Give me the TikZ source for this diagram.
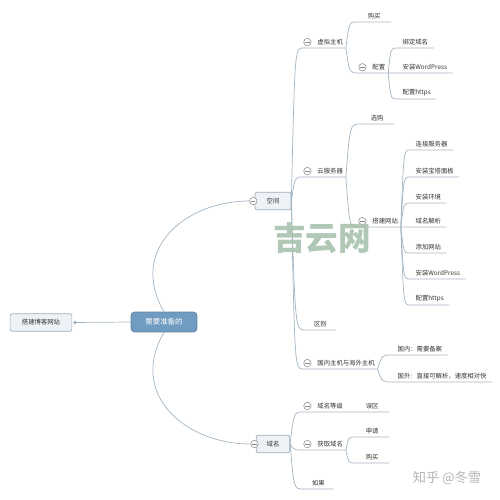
\documentclass[tikz,border=0pt]{standalone}
\usepackage{fontspec}
\newfontfamily\cjk{Noto Sans CJK SC}
\usetikzlibrary{calc,arrows.meta}

\definecolor{linegrey}{HTML}{A3B5C3}
\definecolor{textgrey}{HTML}{333333}
\definecolor{foldgrey}{HTML}{8A8A8A}
\definecolor{rootblue}{HTML}{6F9CC0}
\definecolor{boxfill}{HTML}{EEF2F6}
\definecolor{boxline}{HTML}{9FB0BD}
\definecolor{wmgreen}{HTML}{A8C2AE}
\definecolor{zhgrey}{HTML}{B4B4B4}

\begin{document}
\begin{tikzpicture}[x=0.567pt,y=-0.567pt,
	every node/.style={font=\cjk\fontsize{3.6}{4}\selectfont, text=textgrey},
	link/.style={linegrey, line width=0.4pt},
	fork/.style={to path={.. controls ($(\tikztostart |- \tikztotarget)!.3!(\tikztotarget)$) .. (\tikztotarget)}},
	topbox/.style={draw=boxline, fill=boxfill, rounded corners=1.2pt, line width=0.4pt},
	foldmark/.style={circle, draw=foldgrey, fill=white, line width=0.3pt,
		minimum size=4.2pt, inner sep=0pt,
		path picture={\draw[foldgrey, line width=0.3pt]
			([xshift=-1.2pt]path picture bounding box.center) -- ++(2.4pt,0);}},
	fold/.style={execute at begin node={\hspace*{6.5pt}},
		path picture={
			\draw[foldgrey, line width=0.3pt]
			([xshift=2.3pt]path picture bounding box.west) circle (2.1pt);
			\draw[foldgrey, line width=0.3pt]
			([xshift=1.1pt]path picture bounding box.west) -- ++(2.4pt,0);}},
	sub/.style={inner xsep=1.5pt, inner ysep=1.5pt, anchor=south west},
	leaf/.style={inner xsep=3pt, inner ysep=1.5pt, minimum width=19pt, anchor=south west}]
	
	\useasboundingbox (0,0) rectangle (500,500);
	
	% Central topic and goal
	\node[draw=rootblue!85!black, fill=rootblue, rounded corners=2pt,
	minimum width=37.4pt, minimum height=11.3pt,
	font=\cjk\fontsize{4.2}{5}\selectfont, text=white] (root) at (164,322) {需要准备的};
	
	\node[topbox, minimum width=35pt, minimum height=7.4pt] (site) at (41,322.5) {搭建博客网站};
	
	\draw[link, -{Circle[length=2pt]}] (root.west) -- ([xshift=0.6pt]site.east);
	
	% Main branches
	\node[topbox, minimum width=20.4pt, minimum height=6.8pt] (space) at (273,201) {空间};
	\node[foldmark] (spacefold) at ([xshift=-0.8pt]space.west) {};
	
	\node[topbox, minimum width=19pt, minimum height=6.8pt] (domain) at (273,444) {域名};
	\node[foldmark] (domainfold) at ([xshift=-0.8pt]domain.west) {};
	
	\draw[link] (root.north) .. controls (128,250) and (185,201) .. (spacefold.west);
	\draw[link] (root.south) .. controls (128,394) and (185,444) .. (domainfold.west);
	
	% Space: second level
	\node[sub, fold] (vhost) at (303,48) {虚拟主机};
	\node[sub, fold] (cloud) at (303,177) {云服务器};
	\node[sub, minimum width=17pt] (diff) at (305,330) {区别};
	\node[sub, fold] (region) at (303,369) {国内主机与海外主机};
	
	\draw[link] (space.east) to[fork] (vhost.south west) -- (vhost.south east);
	\draw[link] (space.east) to[fork] (cloud.south west) -- (cloud.south east);
	\draw[link] (space.east) to[fork] (diff.south west) -- (diff.south east);
	\draw[link] (space.east) to[fork] (region.south west) -- (region.south east);
	
	% Virtual host
	\node[leaf] (vbuy) at (357,22) {购买};
	\node[sub, fold] (vconf) at (358,73) {配置};
	
	\draw[link] (vhost.south east) to[fork] (vbuy.south west) -- (vbuy.south east);
	\draw[link] (vhost.south east) to[fork] (vconf.south west) -- (vconf.south east);
	
	\node[leaf] (vbind) at (397,48) {绑定域名};
	\node[leaf] (vwp) at (397,73) {安装WordPress};
	\node[leaf] (vhttps) at (397,99) {配置https};
	
	\draw[link] (vconf.south east) to[fork] (vbind.south west) -- (vbind.south east);
	\draw[link] (vconf.south east) to[fork] (vwp.south west) -- (vwp.south east);
	\draw[link] (vconf.south east) to[fork] (vhttps.south west) -- (vhttps.south east);
	
	% Cloud server
	\node[leaf] (cpick) at (360,124) {选购};
	\node[sub, fold] (cbuild) at (358,227) {搭建网站};
	
	\draw[link] (cloud.south east) to[fork] (cpick.south west) -- (cpick.south east);
	\draw[link] (cloud.south east) to[fork] (cbuild.south west) -- (cbuild.south east);
	
	\node[leaf] (s1) at (410,150) {连接服务器};
	\node[leaf] (s2) at (410,177) {安装宝塔面板};
	\node[leaf] (s3) at (410,203) {安装环境};
	\node[leaf] (s4) at (410,227) {域名解析};
	\node[leaf] (s5) at (410,253) {添加网站};
	\node[leaf] (s6) at (410,279) {安装WordPress};
	\node[leaf] (s7) at (410,305) {配置https};
	
	\draw[link] (cbuild.south east) to[fork] (s1.south west) -- (s1.south east);
	\draw[link] (cbuild.south east) to[fork] (s2.south west) -- (s2.south east);
	\draw[link] (cbuild.south east) to[fork] (s3.south west) -- (s3.south east);
	\draw[link] (cbuild.south east) to[fork] (s4.south west) -- (s4.south east);
	\draw[link] (cbuild.south east) to[fork] (s5.south west) -- (s5.south east);
	\draw[link] (cbuild.south east) to[fork] (s6.south west) -- (s6.south east);
	\draw[link] (cbuild.south east) to[fork] (s7.south west) -- (s7.south east);
	
	% Home or abroad
	\node[leaf] (home) at (392,355) {国内：需要备案};
	\node[leaf] (abroad) at (392,382) {国外：直接可解析，速度相对快};
	
	\draw[link] (region.south east) to[fork] (home.south west) -- (home.south east);
	\draw[link] (region.south east) to[fork] (abroad.south west) -- (abroad.south east);
	
	% Domain: second level
	\node[sub, fold] (level) at (303,412) {域名等级};
	\node[sub, fold] (obtain) at (303,450) {获取域名};
	\node[sub, minimum width=17pt] (ifso) at (303,489) {如果};
	
	\draw[link] (domain.east) to[fork] (level.south west) -- (level.south east);
	\draw[link] (domain.east) to[fork] (obtain.south west) -- (obtain.south east);
	\draw[link] (domain.east) to[fork] (ifso.south west) -- (ifso.south east);
	
	\node[leaf] (myth) at (355,412) {误区};
	\node[leaf] (apply) at (355,437) {申请};
	\node[leaf] (dbuy) at (355,463) {购买};
	
	\draw[link] (level.south east) to[fork] (myth.south west) -- (myth.south east);
	\draw[link] (obtain.south east) to[fork] (apply.south west) -- (apply.south east);
	\draw[link] (obtain.south east) to[fork] (dbuy.south west) -- (dbuy.south east);
	
	% Watermarks
	\node[font=\cjk\bfseries\fontsize{18.5}{19}\selectfont, text=wmgreen, opacity=.9] (wm) at (322,238) {吉云网};
	\node[font=\cjk\fontsize{7.5}{8}\selectfont, text=zhgrey] (zh) at (447,478) {知乎 @冬雪};
	
\end{tikzpicture}
\end{document}
